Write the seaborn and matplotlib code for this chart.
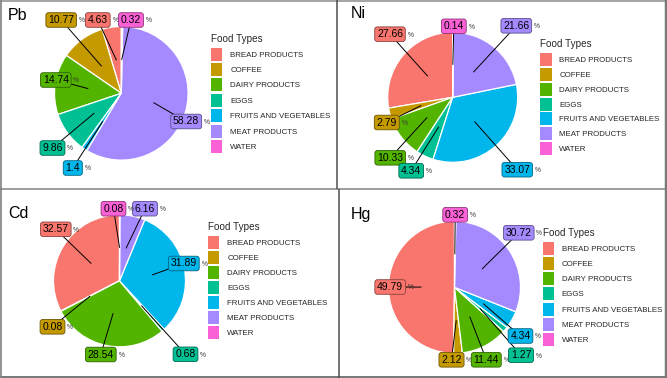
import numpy as np
import matplotlib
matplotlib.use("Agg")
import matplotlib.pyplot as plt
import seaborn as sns
from matplotlib.lines import Line2D
from matplotlib.patches import Patch
import matplotlib.colors as mcolors

sns.set_theme(style="white")
plt.rcParams['font.family'] = ['Liberation Sans', 'DejaVu Sans']

# ---------------- data ----------------
categories = ["BREAD PRODUCTS", "COFFEE", "DAIRY PRODUCTS", "EGGS",
              "FRUITS AND VEGETABLES", "MEAT PRODUCTS", "WATER"]
metals = ["Pb", "Ni", "Cd", "Hg"]
pb_values = [4.63, 10.77, 14.74, 9.86, 1.4, 58.28, 0.32]
ni_values = [27.66, 2.79, 10.33, 4.34, 33.07, 21.66, 0.14]
cd_values = [32.57, 0.08, 28.54, 0.68, 31.89, 6.16, 0.08]
hg_values = [49.79, 2.12, 11.44, 1.27, 4.34, 30.72, 0.32]
legend_title = "Food Types"

palette = sns.color_palette(["#F8766D", "#C49A00", "#53B400", "#00C094",
                             "#00B6EB", "#A58AFF", "#FB61D7"])

# ---------------- layout (panel-local pixels, y down) ----------------
W, H = 667, 378
panels = {
    "Pb": dict(origin=(0, 0), size=(333, 189), center=(121.3, 93.3), r=66.8,
               title=(7.3, 15.0), legend=(211.0, 33.5), lspace=0.30,
               labels=[(97.8, 20), (61.2, 20), (55.8, 80), (52.5, 148),
                       (72.8, 168), (186.2, 121.5), (131.0, 20)]),
    "Ni": dict(origin=(333, 0), size=(334, 189), center=(119.7, 97.3), r=65.0,
               title=(17.3, 14.0), legend=(207.3, 39.0), lspace=0.23,
               labels=[(57.0, 34.2), (53.8, 122.5), (57.2, 157.8), (78.2, 170.8),
                       (184.2, 169.7), (183.3, 25.8), (120.8, 26.3)]),
    "Cd": dict(origin=(0, 189), size=(333, 189), center=(119.5, 91.8), r=66.0,
               title=(8.3, 25.0), legend=(208.0, 32.5), lspace=0.265,
               labels=[(55.8, 40.3), (52.5, 137.8), (100.8, 165.5), (185.5, 165.3),
                       (183.8, 74.5), (145.0, 19.7), (113.5, 19.7)]),
    "Hg": dict(origin=(333, 189), size=(334, 189), center=(121.5, 98.3), r=66.0,
               title=(17.3, 25.7), legend=(209.7, 39.0), lspace=0.265,
               labels=[(57.2, 98.0), (118.5, 170.8), (153.3, 170.8), (188.0, 166.2),
                       (187.5, 147.0), (185.8, 43.8), (122.2, 25.8)]),
}
values_by_metal = {"Pb": pb_values, "Ni": ni_values, "Cd": cd_values, "Hg": hg_values}


def darker(c, f=0.45):
    c = np.array(mcolors.to_rgb(c))
    return tuple(c * (1 - f))


fig = plt.figure(figsize=(W / 100, H / 100), dpi=100)
fig.patch.set_facecolor("white")

for metal in metals:
    p = panels[metal]
    vals = values_by_metal[metal]
    ox, oy = p["origin"]
    pw, ph = p["size"]
    ax = fig.add_axes([ox / W, 1 - (oy + ph) / H, pw / W, ph / H])
    cx, cy = p["center"]
    r = p["r"]
    cyu = ph - cy
    ax.pie(vals, colors=palette, startangle=90, counterclock=True, radius=r,
           center=(cx, cyu), wedgeprops=dict(edgecolor="white", linewidth=0.9))
    ax.set_xlim(0, pw)
    ax.set_ylim(0, ph)
    ax.set_aspect("auto")
    ax.axis("off")

    total = float(sum(vals))
    cum = 0.0
    for i, v in enumerate(vals):
        theta = np.deg2rad(90 + 360 * (cum + v / 2) / total)
        cum += v
        axp = cx + 0.5 * r * np.cos(theta)
        ayp = cyu + 0.5 * r * np.sin(theta)
        lx, ly = p["labels"][i]
        lyu = ph - ly
        ax.plot([axp, lx], [ayp, lyu], color="black", lw=0.7, zorder=3,
                solid_capstyle="butt")
        t = ax.text(lx, lyu, f"{v}", ha="center", va="center", fontsize=7.5,
                    color="black", zorder=5,
                    bbox=dict(boxstyle="round,pad=0.22,rounding_size=0.25",
                              fc=palette[i], ec=darker(palette[i]), lw=0.6))
        ax.annotate("%", xy=(1, 0.5), xycoords=t, xytext=(3.2, -0.6),
                    textcoords="offset points", fontsize=4.8, ha="left",
                    va="center", color="#333333", zorder=5)

    tx, ty = p["title"]
    ax.text(tx, ph - ty, metal, fontsize=11.5, ha="left", va="center", color="black")

    handles = [Patch(facecolor=palette[i], edgecolor="none") for i in range(len(categories))]
    lgx, lgy = p["legend"]
    leg = ax.legend(handles, categories, title=legend_title, loc="upper left",
                    bbox_to_anchor=(lgx, ph - lgy), bbox_transform=ax.transData,
                    frameon=False, fontsize=5.7, title_fontsize=7.1,
                    handlelength=1.45, handleheight=2.15, labelspacing=p["lspace"],
                    handletextpad=0.97, borderpad=0, borderaxespad=0,
                    alignment="left")
    leg._legend_box.sep = 3.0

# ---------------- panel borders ----------------
def fline(x0, y0, x1, y1, lw, color):
    fig.add_artist(Line2D([x0 / W, x1 / W], [1 - y0 / H, 1 - y1 / H],
                          transform=fig.transFigure, lw=lw * 0.72, color=color,
                          solid_capstyle="butt"))

fline(0, 0.5, W, 0.5, 1.5, "#888888")
fline(0.7, 0, 0.7, H, 1.8, "#888888")
fline(0, H - 1.5, W, H - 1.5, 3.0, "#7a7a7a")
fline(W - 1.2, 0, W - 1.2, H, 2.5, "#7a7a7a")
fline(0, 189.3, W, 189.3, 1.5, "#808080")
fline(337, 0, 337, 189.3, 1.5, "#4a4a4a")
fline(339, 189.3, 339, H, 1.5, "#4a4a4a")

fig.savefig("out.png", dpi=100)
